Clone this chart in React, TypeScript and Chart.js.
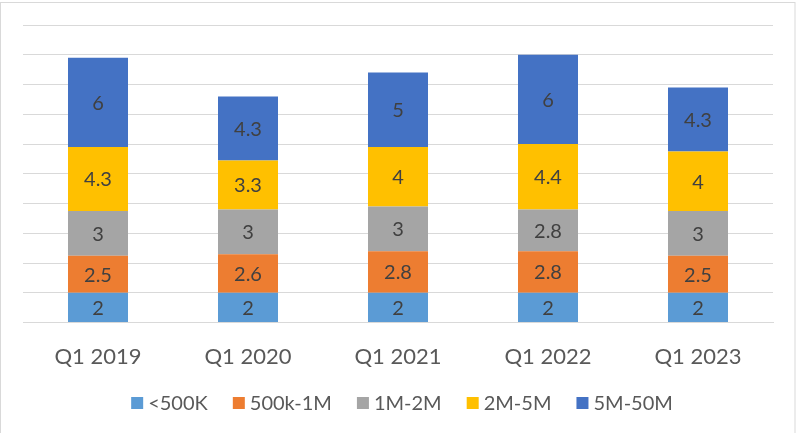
import React, { useEffect, useRef } from "react";
import { Chart, registerables } from "chart.js";

Chart.register(...registerables);

const categories = ["Q1 2019", "Q1 2020", "Q1 2021", "Q1 2022", "Q1 2023"];
const seriesNames = ["<500K", "500k-1M", "1M-2M", "2M-5M", "5M-50M"];
const under500K = [2, 2, 2, 2, 2];
const k500to1M = [2.5, 2.6, 2.8, 2.8, 2.5];
const m1to2 = [3, 3, 3, 2.8, 3];
const m2to5 = [4.3, 3.3, 4, 4.4, 4];
const m5to50 = [6, 4.3, 5, 6, 4.3];
const seriesColors = ["#5B9BD5", "#ED7D31", "#A5A5A5", "#FFC000", "#4472C4"];
const yMax = 20;
const yStep = 2;

const FONT = "Lato, 'Open Sans', sans-serif";

const labelPlugin = {
  id: "segLabels",
  afterDatasetsDraw(chart: any) {
    const ctx = chart.ctx;
    ctx.save();
    ctx.font = `20px ${FONT}`;
    ctx.fillStyle = "#404040";
    ctx.textAlign = "center";
    ctx.textBaseline = "middle";
    chart.data.datasets.forEach((ds: any, i: number) => {
      const meta = chart.getDatasetMeta(i);
      meta.data.forEach((bar: any, j: number) => {
        const v = ds.data[j];
        const cy = (bar.y + bar.base) / 2;
        ctx.fillText(String(v), bar.x, cy + 1);
      });
    });
    ctx.restore();
  },
};

const legendPlugin = {
  id: "customLegend",
  afterDraw(chart: any) {
    const ctx = chart.ctx;
    ctx.save();
    ctx.font = `20px ${FONT}`;
    ctx.textBaseline = "middle";
    ctx.textAlign = "left";
    const box = 12;
    const textGap = 5;
    const itemGap = 25;
    const widths = chart.data.datasets.map((ds: any) => ctx.measureText(ds.label).width);
    const total =
      widths.reduce((a: number, w: number) => a + box + textGap + w, 0) + itemGap * (widths.length - 1);
    let x = (chart.chartArea.left + chart.chartArea.right) / 2 + 4 - total / 2;
    const y = 403;
    chart.data.datasets.forEach((ds: any, i: number) => {
      ctx.fillStyle = ds.backgroundColor;
      ctx.fillRect(x, y - box / 2, box, box);
      ctx.fillStyle = "#595959";
      ctx.fillText(ds.label, x + box + textGap, y + 1);
      x += box + textGap + widths[i] + itemGap;
    });
    ctx.restore();
  },
};

const borderPlugin = {
  id: "outerBorder",
  beforeDraw(chart: any) {
    const ctx = chart.ctx;
    ctx.save();
    ctx.fillStyle = "#ffffff";
    ctx.fillRect(0, 0, chart.width, chart.height);
    ctx.strokeStyle = "#d9d9d9";
    ctx.lineWidth = 1;
    ctx.strokeRect(0.5, 2.5, chart.width - 1.5, chart.height - 2);
    ctx.restore();
  },
};

export default function App() {
  const ref = useRef<HTMLCanvasElement>(null);
  useEffect(() => {
    document.body.style.margin = "0";
    const datasets = [under500K, k500to1M, m1to2, m2to5, m5to50].map((d, i) => ({
      label: seriesNames[i],
      data: d,
      backgroundColor: seriesColors[i],
      borderWidth: 0,
      barPercentage: 0.4,
      categoryPercentage: 1,
    }));
    const chart = new Chart(ref.current!, {
      type: "bar",
      data: { labels: categories, datasets },
      options: {
        animation: false,
        responsive: false,
        maintainAspectRatio: false,
        layout: { padding: { left: 23, right: 23, top: 25, bottom: 50 } },
        scales: {
          x: {
            stacked: true,
            grid: { display: false },
            border: { display: true, color: "#d9d9d9", width: 1 },
            ticks: { color: "#595959", font: { size: 22, family: FONT }, padding: 13 },
          },
          y: {
            stacked: true,
            min: 0,
            max: yMax,
            ticks: { display: false, stepSize: yStep },
            grid: { color: "#d9d9d9", lineWidth: 1, drawTicks: false },
            border: { display: false },
          },
        },
        plugins: {
          legend: { display: false },
          tooltip: { enabled: false },
        },
      },
      plugins: [labelPlugin, legendPlugin, borderPlugin],
    });
    return () => chart.destroy();
  }, []);
  return <canvas ref={ref} width={796} height={433} style={{ display: "block" }} />;
}
